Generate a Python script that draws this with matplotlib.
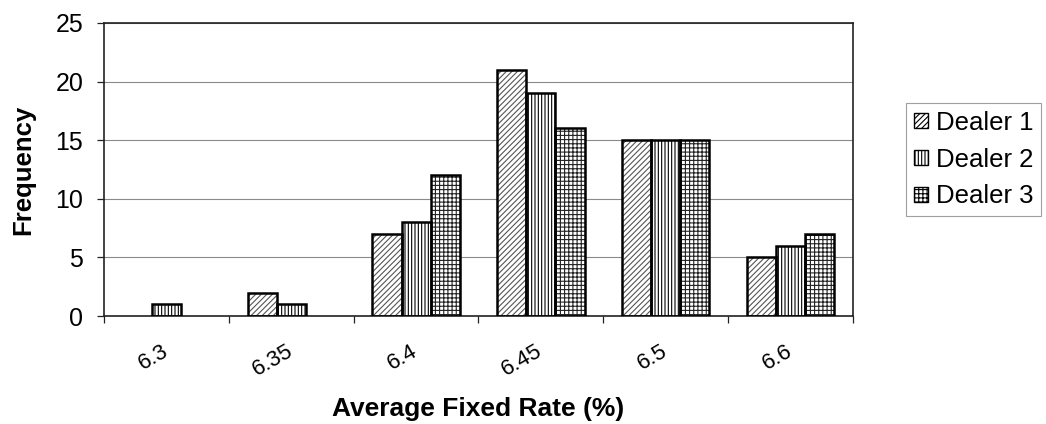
import numpy as np
import matplotlib
matplotlib.use('Agg')
import matplotlib.pyplot as plt
from matplotlib.patches import Patch

# Frequency of average fixed rates quoted by each dealer
rates = ['6.3', '6.35', '6.4', '6.45', '6.5', '6.6']
dealer_1 = [0, 2, 7, 21, 15, 5]
dealer_2 = [1, 1, 8, 19, 15, 6]
dealer_3 = [0, 0, 12, 16, 15, 7]
series_names = ['Dealer 1', 'Dealer 2', 'Dealer 3']

plt.rcParams['font.family'] = ['Liberation Sans', 'DejaVu Sans']
plt.rcParams['hatch.linewidth'] = 0.8

fig = plt.figure(figsize=(10.46, 4.24), dpi=100)
ax = fig.add_axes([0.0994, 0.2547, 0.7161, 0.6911])

x = np.arange(len(rates))
w = 0.233
series = [dealer_1, dealer_2, dealer_3]
hatches = ['//////', '|||||', '++++']
hatch_colors = ['#555555', 'black', '#222222']

for i, (vals, h, hc) in enumerate(zip(series, hatches, hatch_colors)):
    vals = np.array(vals)
    keep = vals > 0  # empty bins get no bar at all
    pos = (x + (i - 1) * w)[keep]
    # hatched fill first, then a solid outline on top
    ax.bar(pos, vals[keep], w, color='white', edgecolor=hc, hatch=h, linewidth=0, zorder=2)
    ax.bar(pos, vals[keep], w, fill=False, edgecolor='black', linewidth=1.8, zorder=3)

ax.set_xlim(-0.5, len(rates) - 0.5)
ax.set_ylim(0, 25)
ax.set_yticks([0, 5, 10, 15, 20, 25])
ax.yaxis.grid(True, color='#8a8a8a', linewidth=0.8)
ax.set_axisbelow(True)

# category boundaries carry the tick marks, labels sit at the group centres
ax.set_xticks(x)
ax.set_xticklabels(rates, rotation=30, ha='right', va='center', rotation_mode='anchor')
ax.set_xticks(np.arange(-0.5, len(rates)), minor=True)
ax.tick_params(axis='x', which='major', length=0, pad=24, labelsize=16)
ax.tick_params(axis='x', which='minor', length=5, width=0.9, color='#222222', direction='out')
ax.tick_params(axis='y', length=5, width=0.9, color='#222222', pad=10, labelsize=18)

for s in ax.spines.values():
    s.set_color('#222222')
    s.set_linewidth(1.2)

ax.set_xlabel('Average Fixed Rate (%)', fontsize=19, fontweight='bold')
ax.xaxis.set_label_coords(0.5, -0.275)
ax.set_ylabel('Frequency', fontsize=18.5, fontweight='bold')
ax.yaxis.set_label_coords(-0.092, 0.5)

handles = [Patch(facecolor='white', edgecolor='black', hatch=h, linewidth=1.0)
           for h in ['//////', '|||||', '++++']]
leg = fig.legend(handles, series_names, loc='upper left',
                 bbox_to_anchor=(906 / 1046, 1 - 103 / 424),
                 fontsize=18.5, frameon=True, fancybox=False,
                 handlelength=0.55, handleheight=0.55, handletextpad=0.3,
                 labelspacing=0.5, borderpad=0.3, borderaxespad=0)
leg.get_frame().set_edgecolor('#888888')
leg.get_frame().set_linewidth(0.8)

fig.savefig('out.png', dpi=100)
